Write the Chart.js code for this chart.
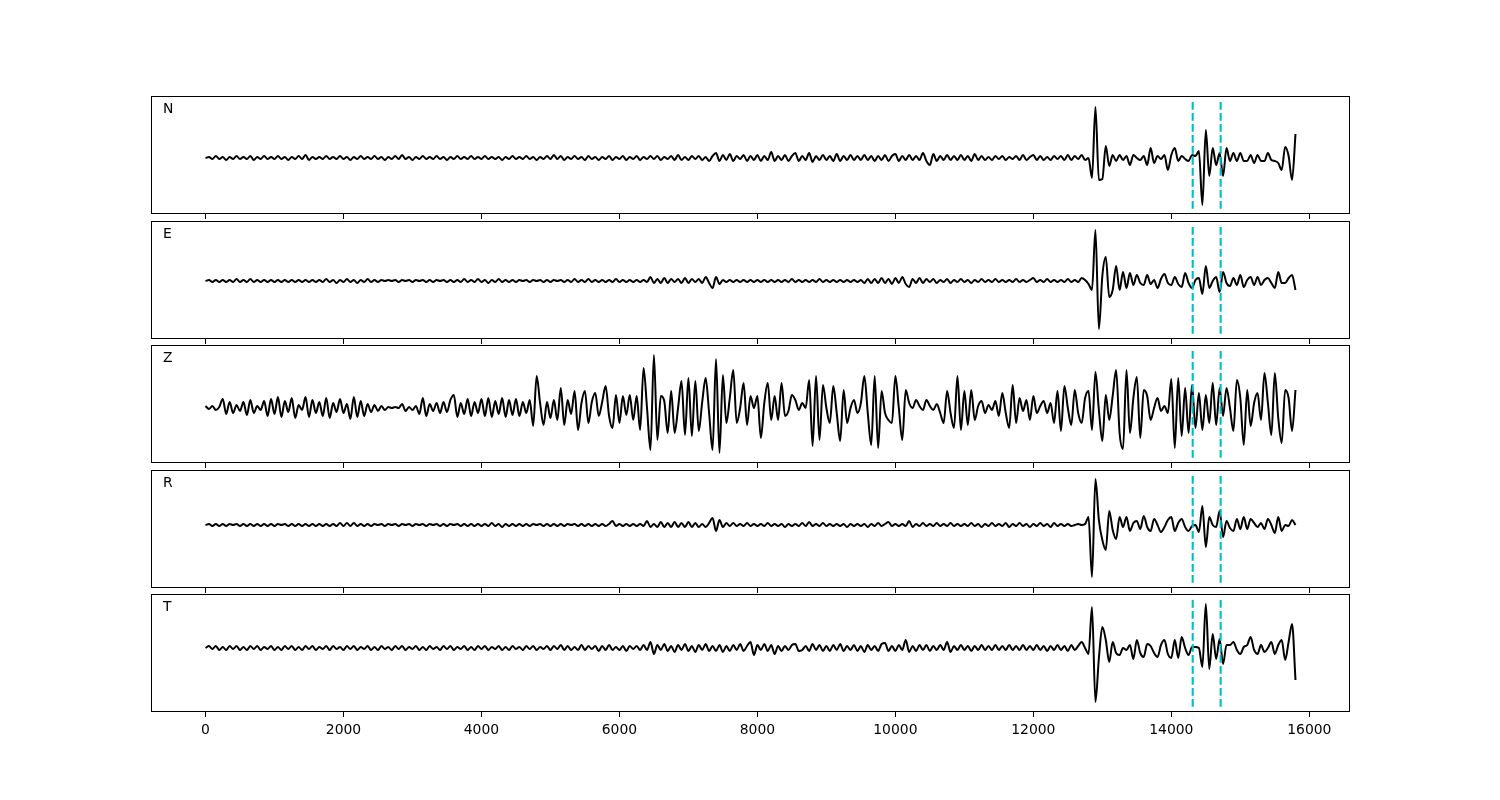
<!DOCTYPE html>
<html>
<head>
<meta charset="utf-8">
<title>Waveforms N E Z R T</title>
<script src="https://cdn.jsdelivr.net/npm/chart.js@4.4.1/dist/chart.umd.min.js"></script>
<style>
  html, body { margin: 0; padding: 0; background: #fff; }
  #wrap { position: relative; width: 1500px; height: 800px; overflow: hidden; }
  #wrap canvas { position: absolute; left: 0; }
</style>
</head>
<body>
<div id="wrap"></div>
<script>
// ---- data (amplitudes, arbitrary units) ----
const SAMPLE_STEP = 50;          // time between samples
const SAMPLE_COUNT = 317;        // 0 .. 15800
const times = Array.from({ length: SAMPLE_COUNT }, (_, i) => i * SAMPLE_STEP);

const componentNames = ["N", "E", "Z", "R", "T"];
const pickTimes = [14310, 14715];
const xTickValues = [0, 2000, 4000, 6000, 8000, 10000, 12000, 14000, 16000];

// span of the pick lines in each panel (lo, hi)
const pickSpanN = [-50.6, 56.6];
const pickSpanE = [-52.6, 54.6];
const pickSpanZ = [-49.6, 57.6];
const pickSpanR = [-57.6, 49.6];
const pickSpanT = [-58.6, 48.6];

const traceN = [
  0,1,-1,2,-1,1,-2,1,-1,2,-1,1,-1,2,-2,1,-1,2,-1,1,
  -1,2,-1,1,-2,1,-1,2,-1,3,-2,1,-1,1,-1,2,-1,1,-1,2,
  -1,1,-2,1,-1,2,-1,1,-1,2,-1,1,-2,1,-1,2,-1,3,-1,1,
  -2,1,-1,2,-1,1,-1,2,-1,1,-2,1,-1,2,-1,1,-1,2,-1,1,
  -1,2,-1,1,-1,1,-2,1,-1,2,-1,1,-1,2,-1,1,-2,1,-1,2,
  -1,3,-1,2,-2,1,-1,2,-1,1,-2,2,-1,1,-2,1,-1,2,-2,1,
  -1,2,-2,1,-1,2,-2,1,-1,2,-1,2,-2,1,-1,2,-2,3,-2,1,
  -2,2,-1,2,-2,1,-3,2,5,-3,3,-2,4,-3,2,-1,3,-3,2,-2,
  3,-3,2,-2,6,-3,2,-2,3,-3,2,5,-3,2,-2,5,-4,2,-2,3,
  -2,2,-3,4,-3,2,-2,3,-2,2,-2,3,-2,2,-3,2,-2,3,-3,2,
  4,-3,2,-2,3,-2,2,-2,5,-3,-7,4,-3,2,-2,3,-2,2,-2,3,
  -2,2,-3,4,-2,2,-2,1,-2,2,-1,2,-2,1,-1,2,-2,3,-2,1,
  3,-2,2,-2,1,-2,2,-1,2,-2,3,-2,2,-1,3,-2,0,-20,51,-22,
  -21,12,-8,3,-3,3,-2,2,-7,3,0,-2,2,-7,10,-5,2,-1,3,-12,
  3,10,-3,2,-1,-3,3,2,7,-47,28,-18,10,-7,5,-18,10,-3,5,-3,
  5,-3,-3,3,-5,3,-3,-3,5,-2,-3,-5,-12,11,2,-22,24
];

const traceE = [
  0,1,-1,1,-1,1,-1,1,-1,2,-1,1,-1,2,-1,1,-1,1,-1,1,
  -1,1,-1,1,-1,1,-1,1,-1,1,-1,1,-1,1,-1,2,-1,1,-2,1,
  -1,2,-1,1,-2,1,-1,2,-1,1,-1,1,0,1,0,1,-1,1,0,1,
  -1,1,0,1,-1,1,-1,1,0,1,-1,1,-1,1,-1,2,-1,1,-1,2,
  -1,1,-2,1,-1,2,-1,1,-1,1,-1,1,0,1,-1,1,0,1,-1,1,
  -1,1,0,1,-1,1,-1,2,-1,1,-1,2,-1,1,-1,1,-1,1,-1,2,
  -1,1,-1,1,-1,1,-1,1,-1,4,-2,2,-2,3,-2,2,-1,2,-2,3,
  -2,2,-1,2,-2,4,-2,-7,4,-3,1,-1,1,-1,1,-1,1,-1,1,-1,
  1,-1,1,-1,1,-1,1,-1,1,-1,2,-1,1,-1,1,-1,1,-1,2,-1,
  1,-1,1,-1,1,-1,1,-1,1,-1,1,-2,2,-2,2,-2,3,-2,2,-3,
  3,-2,4,-3,-6,2,-2,3,-2,2,-1,2,-2,1,-1,2,-2,1,-1,2,
  -1,1,-2,1,-1,2,-1,1,-1,2,-1,1,-1,1,-1,2,-1,1,-1,1,
  3,-1,1,-1,2,-1,1,-1,1,-1,2,-1,1,-1,3,1,-3,-9,51,-48,
  5,24,-16,-9,15,-9,9,-7,8,-4,6,-2,-4,6,-3,1,-7,2,7,-2,
  -4,4,-3,-6,8,-2,-7,1,3,-13,15,-7,0,4,-11,9,-2,-5,3,-4,
  6,-6,1,4,-4,4,-4,1,3,-2,-7,9,-2,-2,3,6,-9
];

const traceZ = [
  2,-1,2,-2,1,9,-6,6,-5,3,-3,6,-7,8,-5,2,-2,7,-8,9,
  -6,11,-9,7,-4,10,-10,3,-2,11,-9,8,-5,6,-8,10,-10,5,-4,9,
  -5,4,-11,11,-9,7,-8,4,-4,3,-3,2,-2,1,0,1,0,4,-3,1,
  -2,2,-6,10,-8,4,-3,5,-5,6,-4,8,13,-9,5,-6,9,-8,6,-5,
  9,-8,10,-9,7,-6,10,-9,8,-7,9,-8,6,-5,8,-18,32,5,-17,6,
  -10,8,-12,20,-17,8,-6,17,-22,5,17,-15,6,15,-8,6,22,-8,-20,13,
  -15,12,-7,13,-12,12,-22,40,0,-42,53,-32,12,7,-25,17,-25,0,27,-27,
  30,-28,27,-23,6,30,-5,-42,49,-45,33,-15,10,38,-15,0,25,-17,12,0,
  12,-30,5,25,-12,12,-12,25,-8,-3,13,8,-2,5,0,28,-38,32,-32,23,
  0,-15,22,-5,-33,18,-15,0,8,-5,5,32,-5,-37,32,-40,17,-5,-12,-15,
  32,0,-32,18,5,0,8,2,-2,8,2,-2,4,-5,-15,17,-5,-20,32,-22,
  17,-17,18,-12,2,7,-5,3,-2,7,-8,15,-5,-20,23,-15,10,-3,8,-12,
  12,-5,2,7,-5,5,-15,17,-23,22,0,-17,18,-5,-15,10,17,-22,36,-2,
  -33,13,-12,12,38,-25,-41,38,-25,10,31,-30,18,12,-12,0,10,-3,2,-5,
  29,-40,30,-28,20,-25,23,-20,15,-22,13,-15,25,-17,20,-8,20,0,-23,28,
  10,-37,18,-18,5,15,-12,35,5,-27,35,-10,-35,18,10,-23,18
];

const traceR = [
  0,1,-1,1,-1,1,-1,1,0,1,-1,1,-1,1,-1,1,-1,1,-1,1,
  -1,1,0,1,-1,1,-1,1,-1,1,-1,1,-1,1,-1,1,-1,1,-1,2,
  -1,2,-1,2,-1,1,-1,1,-1,1,0,1,-1,1,0,1,-1,1,0,1,
  -1,1,0,1,-1,1,0,1,-1,1,-1,1,0,1,-1,1,-1,1,-1,1,
  -1,1,-1,2,-1,1,-2,1,-1,1,-1,1,-1,1,-1,1,0,1,-1,1,
  -1,1,-1,1,-1,1,0,1,-1,1,-1,1,-1,1,-1,1,-1,1,4,-1,
  1,-1,1,-1,1,-1,1,-1,4,-2,1,-2,3,-2,2,-2,3,-2,2,-2,
  3,-2,2,-2,1,-2,2,7,-6,5,-2,2,-1,2,-1,1,-1,2,-1,1,
  -1,1,-1,2,-1,1,-1,1,-2,1,-1,1,-1,2,-1,3,-1,1,-1,2,
  -1,1,-1,1,-1,1,-2,1,-1,1,-1,1,-2,1,-1,2,-1,1,3,-1,
  1,-1,1,-1,4,-2,1,-1,2,-1,1,-1,2,-1,1,-1,2,-1,1,-1,
  1,-1,2,-1,1,-2,1,-1,2,-1,1,-1,2,-2,1,-1,2,-1,1,-2,
  1,-1,2,-1,1,-2,2,-1,1,-1,1,-1,0,1,0,1,8,-52,46,5,
  -15,-25,14,-5,-14,8,-2,8,-6,2,4,-4,9,-2,-6,6,0,-7,-2,5,
  8,-6,2,6,-2,-6,-1,0,-7,19,-22,8,0,-2,14,-12,4,-3,-6,6,
  -4,8,-4,6,2,-2,2,-4,6,0,-8,8,-6,0,-1,5,0
];

const traceT = [
  0,2,-1,2,-2,1,-2,2,-1,2,-2,1,-2,2,-1,2,-2,1,-1,2,
  -2,1,-2,2,-1,2,-2,1,-2,2,-1,2,-2,1,-1,2,-2,2,-1,1,
  -2,2,-1,2,-2,1,-1,2,-2,1,-2,2,-1,1,-2,2,-1,2,-2,1,
  -1,2,-2,1,-2,2,-1,1,-2,2,-1,2,-2,1,-1,2,-2,1,-2,2,
  -1,2,-2,1,-1,2,-2,1,-2,2,-1,1,-2,2,-1,2,-2,1,-1,2,
  -2,2,-1,3,-2,2,-2,1,-2,3,-2,2,-1,2,-3,2,-2,3,-2,1,
  -2,2,-3,2,-1,2,-2,3,-2,6,-6,3,-2,4,-3,2,-4,3,-2,4,
  -3,2,-4,3,-2,4,-3,2,-3,3,-4,2,-3,3,-2,4,-3,2,6,-7,
  3,-2,4,-3,3,-6,2,-3,2,-2,3,4,-3,-2,2,-3,4,-2,3,-3,
  2,-3,3,-2,4,-3,2,-2,3,-3,2,-4,3,-2,2,-3,4,5,-3,2,
  -3,3,-2,8,-4,2,-3,3,-2,3,-3,2,-2,3,-2,6,-4,2,-2,3,
  -2,2,-3,2,-2,3,-2,2,-2,3,-2,2,-2,3,-2,2,-2,3,-2,2,
  -2,3,-2,2,-3,2,-2,3,-2,2,-3,3,-2,2,6,0,-6,41,-54,-10,
  21,8,-14,6,-5,-7,0,-2,3,-11,8,-5,-9,4,2,-5,-9,3,8,-6,
  -10,8,-10,11,0,-7,1,1,0,-19,44,-21,14,-11,9,-16,3,3,6,-2,
  -6,1,3,11,-2,-6,3,-4,0,6,-6,3,8,-12,6,24,-32
];

const traces = [traceN, traceE, traceZ, traceR, traceT];
const pickSpans = [pickSpanN, pickSpanE, pickSpanZ, pickSpanR, pickSpanT];

// ---- layout ----
const PANEL_TOPS = [96, 221, 345, 470, 594];
const PANEL_H = 118;
const PAD_TOP = 8;
const X_MIN = -790, X_MAX = 16590;

// frame around each panel + component letter in the corner
const panelFrame = {
  id: "panelFrame",
  afterDraw(chart, args, opts) {
    const { ctx, chartArea: a } = chart;
    ctx.save();
    ctx.strokeStyle = "#000";
    ctx.lineWidth = 1;
    ctx.strokeRect(Math.round(a.left) + 0.5, Math.round(a.top) + 0.5,
      Math.round(a.right - a.left) - 1, Math.round(a.bottom - a.top) - 1);
    ctx.fillStyle = "#000";
    ctx.font = '13.9px "DejaVu Sans"';
    ctx.textAlign = "left";
    ctx.textBaseline = "middle";
    // matplotlib centres the full text box, so the capital sits a bit lower
    ctx.fillText(opts.label, a.left + 0.01 * (a.right - a.left), a.top + 0.1 * (a.bottom - a.top) + 1.5);
    ctx.restore();
  }
};

function makePanel(i) {
  const wrap = document.getElementById("wrap");
  const canvas = document.createElement("canvas");
  const isLast = i === traces.length - 1;
  const axisH = isLast ? 40 : 12;
  canvas.width = 1500;
  canvas.height = PAD_TOP + PANEL_H + axisH;
  canvas.style.top = (PANEL_TOPS[i] - PAD_TOP) + "px";
  wrap.appendChild(canvas);

  const [lo, hi] = pickSpans[i];
  const margin = 0.05 * (hi - lo);

  const pickSets = pickTimes.map((t) => ({
    data: [{ x: t, y: lo }, { x: t, y: hi }],
    borderColor: "#00bfbf",
    borderWidth: 2.1,
    borderDash: [7.7, 3.3],
    borderCapStyle: "butt",
    pointRadius: 0,
    fill: false,
    order: 0,
  }));

  new Chart(canvas, {
    type: "line",
    data: {
      labels: times,
      datasets: [
        ...pickSets,
        {
          data: traces[i],
          borderColor: "#000",
          borderWidth: 2,
          borderJoinStyle: "round",
          pointRadius: 0,
          fill: false,
          cubicInterpolationMode: "monotone",
          order: 1,
        },
      ],
    },
    options: {
      responsive: false,
      animation: false,
      devicePixelRatio: 1,
      layout: { padding: { left: 151, right: 150, top: PAD_TOP, bottom: 0 } },
      plugins: {
        legend: { display: false },
        tooltip: { enabled: false },
        panelFrame: { label: componentNames[i] },
      },
      scales: {
        x: {
          type: "linear",
          min: X_MIN,
          max: X_MAX,
          afterFit(scale) { scale.height = axisH; },
          afterBuildTicks(scale) { scale.ticks = xTickValues.map((v) => ({ value: v })); },
          ticks: {
            display: isLast,
            autoSkip: false,
            maxRotation: 0,
            padding: 5,
            color: "#000",
            font: { family: "DejaVu Sans", size: 13.9 },
            callback: (v) => String(v),
          },
          grid: {
            display: true,
            drawOnChartArea: false,
            drawTicks: true,
            tickLength: 5,
            tickColor: "#000",
            tickWidth: 1,
          },
          border: { display: false },
        },
        y: {
          display: false,
          min: lo - margin,
          max: hi + margin,
        },
      },
    },
    plugins: [panelFrame],
  });
}

traces.forEach((_, i) => makePanel(i));
</script>
</body>
</html>
